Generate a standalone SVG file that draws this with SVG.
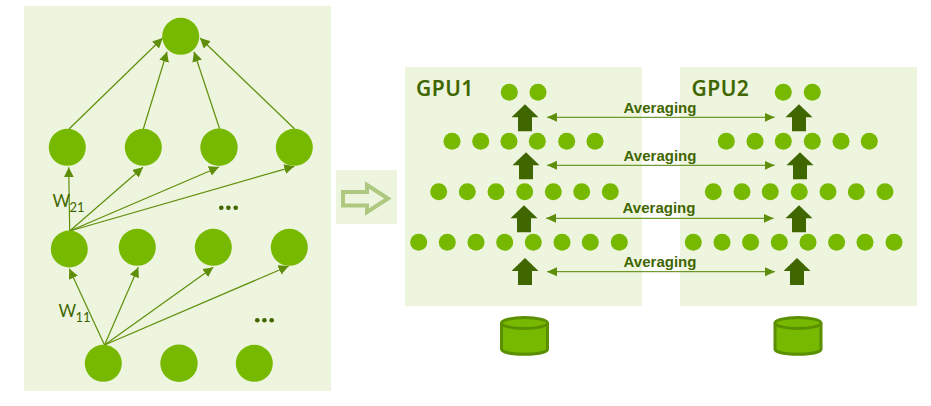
<svg xmlns="http://www.w3.org/2000/svg" width="931" height="406" viewBox="0 0 931 406">
<style>
.panel{fill:#eef5de}
.n{fill:#76b900}
.l{stroke:#5f8f0a;stroke-width:1.2;fill:none;marker-end:url(#ah)}
.a{stroke:#4f8400;stroke-width:1;fill:none;marker-start:url(#av);marker-end:url(#av)}
.b{fill:#406600}
.dot{fill:#3f6600}
.avg{font:bold 15px "Liberation Sans",Arial,sans-serif;fill:#3f6600;text-anchor:middle}
.gpu{font:600 21px "Noto Sans","Liberation Sans",sans-serif;fill:#3f6600;letter-spacing:.5px}
.w{font:17px Lato,"Liberation Sans",sans-serif;fill:#3f6600}
.s{font:13px Lato,"Liberation Sans",sans-serif;fill:#3f6600}
.cyl{fill:#76b900;stroke:#5a9000;stroke-width:3}
</style>
<defs>
<marker id="ah" markerUnits="userSpaceOnUse" markerWidth="11" markerHeight="10" refX="10" refY="5" orient="auto"><path d="M0 0L10 5L0 10z" fill="#5f8f0a"/></marker>
<marker id="av" markerUnits="userSpaceOnUse" markerWidth="11" markerHeight="10" refX="10" refY="5" orient="auto-start-reverse"><path d="M0 .5L10 5L0 9.5z" fill="#5f8f0a"/></marker>
<path id="blk" d="M0 0L13.500 13H7V27H-7V13H-13.500z"/>
<g id="can"><path class="cyl" d="M-23 -13V13C-23 20 23 20 23 13V-13"/><ellipse class="cyl" cx="0" cy="-13" rx="23" ry="5.500"/></g>
</defs>
<rect class="panel" x="24" y="6" width="307" height="385"/>
<rect class="panel" x="336" y="170" width="61" height="54"/>
<rect class="panel" x="405" y="67" width="237" height="239"/>
<rect class="panel" x="680" y="67" width="237" height="239"/>
<g id="connectors">
<path class="l" d="M69 129L162.700 38"/><path class="l" d="M143.300 129L167 51.700"/><path class="l" d="M219.700 129L194 51.700"/><path class="l" d="M294.700 129L200 38"/>
<path class="l" d="M69.700 231L68.700 167.300"/><path class="l" d="M69.700 231L143 167.300"/><path class="l" d="M69.700 231L219 167"/><path class="l" d="M69.700 231L294.300 166.300"/>
<path class="l" d="M104.500 345L69.300 268.700"/><path class="l" d="M104.500 345L138.300 267.300"/><path class="l" d="M104.500 345L213.300 267.300"/><path class="l" d="M104.500 345L288.700 266"/>
<path class="a" d="M547 117.300H774.700"/><path class="a" d="M547 165.300H774.700"/><path class="a" d="M546 218.300H773.700"/><path class="a" d="M547 271.700H775"/>
</g>
<g id="net-top"><circle class="n" cx="180.700" cy="36.300" r="18.500"/></g>
<g id="net-row2"><circle class="n" cx="67.300" cy="147.300" r="18.500"/><circle class="n" cx="143.300" cy="147.300" r="18.500"/><circle class="n" cx="219" cy="147.300" r="18.700"/><circle class="n" cx="294.300" cy="147.300" r="18.500"/></g>
<g id="net-row3"><circle class="n" cx="69.300" cy="249" r="18.500"/><circle class="n" cx="137.300" cy="247.300" r="18.500"/><circle class="n" cx="213.300" cy="247.300" r="18.500"/><circle class="n" cx="289.300" cy="247.300" r="18.500"/></g>
<g id="net-row4"><circle class="n" cx="103.300" cy="363.300" r="18.500"/><circle class="n" cx="179" cy="363.300" r="18.700"/><circle class="n" cx="254.300" cy="363.300" r="18.500"/></g>
<g id="ellipsis1"><circle class="dot" cx="221.300" cy="207.700" r="2.300"/><circle class="dot" cx="228.400" cy="207.700" r="2.300"/><circle class="dot" cx="235.700" cy="207.700" r="2.300"/></g>
<g id="ellipsis2"><circle class="dot" cx="257.300" cy="320.300" r="2.300"/><circle class="dot" cx="264.400" cy="320.300" r="2.300"/><circle class="dot" cx="271.700" cy="320.300" r="2.300"/></g>
<g id="w21"><text class="w" x="52.500" y="207">W</text><text class="s" x="69.500" y="211.500">21</text></g>
<g id="w11"><text class="w" x="58.500" y="317">W</text><text class="s" x="75.500" y="322">11</text></g>
<g id="big-arrow"><path d="M343 192H367V185L388 198.500L367 212V205.500H343z" fill="#eef5de" stroke="#aec97f" stroke-width="4"/></g>
<g id="gpu1">
<text class="gpu" x="416" y="96">GPU1</text>
<circle class="n" cx="509.300" cy="92.300" r="8.500"/><circle class="n" cx="538" cy="92.300" r="8.500"/>
<circle class="n" cx="452" cy="141.300" r="8.500"/><circle class="n" cx="480.700" cy="141.300" r="8.500"/><circle class="n" cx="509" cy="141.300" r="8.500"/><circle class="n" cx="537.300" cy="141.300" r="8.500"/><circle class="n" cx="566.700" cy="141.300" r="8.500"/><circle class="n" cx="595" cy="141.300" r="8.500"/>
<circle class="n" cx="438.700" cy="191.700" r="8.500"/><circle class="n" cx="467.300" cy="191.700" r="8.500"/><circle class="n" cx="496" cy="191.700" r="8.500"/><circle class="n" cx="524.700" cy="191.700" r="8.500"/><circle class="n" cx="553.300" cy="191.700" r="8.500"/><circle class="n" cx="581.700" cy="191.700" r="8.500"/><circle class="n" cx="610.300" cy="191.700" r="8.500"/>
<circle class="n" cx="418.700" cy="242.300" r="8.500"/><circle class="n" cx="447.300" cy="242.300" r="8.500"/><circle class="n" cx="476" cy="242.300" r="8.500"/><circle class="n" cx="504.700" cy="242.300" r="8.500"/><circle class="n" cx="533.300" cy="242.300" r="8.500"/><circle class="n" cx="562" cy="242.300" r="8.500"/><circle class="n" cx="590.300" cy="242.300" r="8.500"/><circle class="n" cx="619.300" cy="242.300" r="8.500"/>
<use href="#blk" class="b" x="525" y="104.300"/><use href="#blk" class="b" x="526" y="152.300"/><use href="#blk" class="b" x="524" y="205.300"/><use href="#blk" class="b" x="525" y="258"/>
</g>
<g id="gpu2">
<text class="gpu" x="691.500" y="96">GPU2</text>
<circle class="n" cx="783.300" cy="92.300" r="8.500"/><circle class="n" cx="812.300" cy="92.300" r="8.500"/>
<circle class="n" cx="726.300" cy="141.300" r="8.500"/><circle class="n" cx="755" cy="141.300" r="8.500"/><circle class="n" cx="783.300" cy="141.300" r="8.500"/><circle class="n" cx="812.300" cy="141.300" r="8.500"/><circle class="n" cx="841" cy="141.300" r="8.500"/><circle class="n" cx="869.300" cy="141.300" r="8.500"/>
<circle class="n" cx="713.300" cy="191.700" r="8.500"/><circle class="n" cx="742" cy="191.700" r="8.500"/><circle class="n" cx="770.300" cy="191.700" r="8.500"/><circle class="n" cx="799.300" cy="191.700" r="8.500"/><circle class="n" cx="828" cy="191.700" r="8.500"/><circle class="n" cx="856.300" cy="191.700" r="8.500"/><circle class="n" cx="885" cy="191.700" r="8.500"/>
<circle class="n" cx="693.300" cy="242.300" r="8.500"/><circle class="n" cx="722" cy="242.300" r="8.500"/><circle class="n" cx="750.600" cy="242.300" r="8.500"/><circle class="n" cx="779.300" cy="242.300" r="8.500"/><circle class="n" cx="808" cy="242.300" r="8.500"/><circle class="n" cx="836.600" cy="242.300" r="8.500"/><circle class="n" cx="865" cy="242.300" r="8.500"/><circle class="n" cx="894" cy="242.300" r="8.500"/>
<use href="#blk" class="b" x="799" y="104.300"/><use href="#blk" class="b" x="800" y="152.300"/><use href="#blk" class="b" x="799" y="205.300"/><use href="#blk" class="b" x="797" y="258"/>
</g>
<g id="labels">
<text class="avg" x="660" y="112.700">Averaging</text><text class="avg" x="660" y="160.700">Averaging</text><text class="avg" x="659" y="213.300">Averaging</text><text class="avg" x="660" y="267">Averaging</text>
</g>
<g id="db1"><use href="#can" x="524.500" y="336"/></g>
<g id="db2"><use href="#can" x="798" y="336"/></g>
</svg>
